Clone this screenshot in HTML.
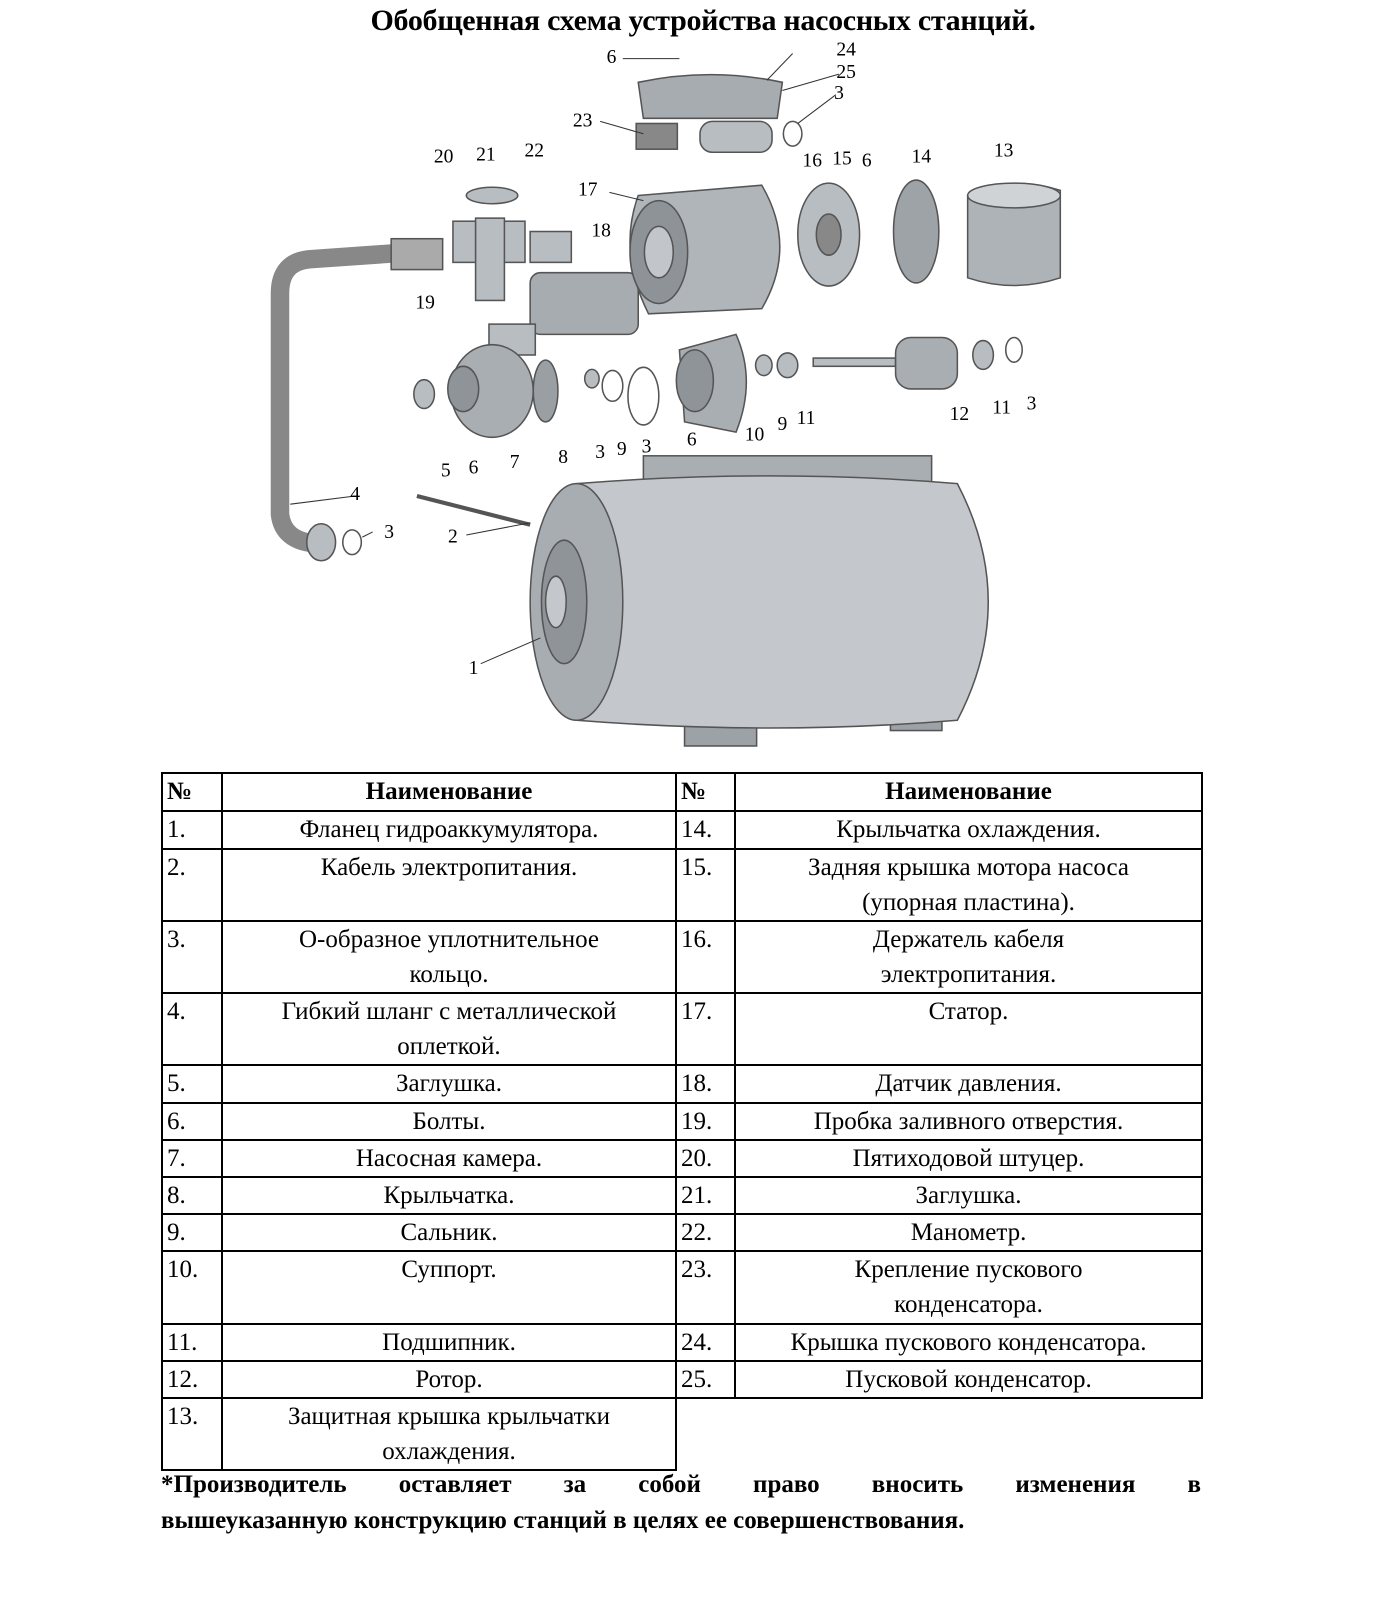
<!DOCTYPE html>
<html><head><meta charset="utf-8"><style>
body{margin:0;width:1400px;height:1600px;background:#fff;position:relative;overflow:hidden;font-family:"Liberation Serif","Noto Serif CJK SC",serif;}
svg{position:absolute;left:0;top:0}
h1{position:absolute;left:0;width:1406px;top:4px;margin:0;text-align:center;font-size:30px;font-weight:bold;letter-spacing:-0.3px}
table{position:absolute;left:161px;top:772px;border-collapse:collapse;font-size:25px;line-height:35px;table-layout:fixed;width:1040px}
td{border:2px solid #000;text-align:center;vertical-align:top;padding:0;white-space:nowrap;overflow:visible}
td.n{text-align:left;padding-left:4px}
.foot{position:absolute;left:161px;top:1467px;width:1040px;font-size:25px;font-weight:bold;line-height:36px;}
.foot1{text-align:justify;text-align-last:justify}
</style></head><body>
<h1>Обобщенная схема устройства насосных станций.</h1>
<svg width="1400" height="1600" viewBox="0 0 1360 1555" preserveAspectRatio="none" font-family="Liberation Serif" font-size="19">
<g fill="#b8bdc2" stroke="#555" stroke-width="1.5">
<rect x="625" y="443" width="280" height="80" fill="#a9aeb3"/>
<rect x="665" y="660" width="70" height="65" fill="#9da2a7"/>
<rect x="865" y="660" width="50" height="50" fill="#9da2a7"/>
<path d="M560 470 Q750 455 930 470 Q990 585 930 700 Q750 715 560 700 Z" fill="#c4c8cc"/>
<ellipse cx="560" cy="585" rx="45" ry="115" fill="#a8adb2"/>
<ellipse cx="548" cy="585" rx="22" ry="60" fill="#8f9499"/>
<ellipse cx="540" cy="585" rx="10" ry="25" fill="#c4c8cc"/>
<path d="M400 245 L300 252 Q272 255 272 285 L272 500 Q275 525 305 528" fill="none" stroke="#888" stroke-width="18"/>
<rect x="380" y="232" width="50" height="30" fill="#aaa"/>
<ellipse cx="312" cy="527" rx="14" ry="18"/>
<rect x="440" y="215" width="70" height="40"/>
<rect x="462" y="212" width="28" height="80"/>
<rect x="515" y="225" width="40" height="30"/>
<ellipse cx="478" cy="190" rx="25" ry="8"/>
<rect x="515" y="265" width="105" height="60" rx="10" fill="#a7acb1"/>
<path d="M620 190 L740 180 Q775 240 740 300 L630 305 Q600 245 620 190Z" fill="#b0b5ba"/>
<ellipse cx="640" cy="245" rx="28" ry="50" fill="#8e9398"/>
<ellipse cx="640" cy="245" rx="14" ry="25" fill="#c2c6ca"/>
<path d="M620 80 Q690 65 760 80 L755 115 L625 115Z" fill="#a7acb1"/>
<rect x="618" y="120" width="40" height="25" fill="#888"/>
<rect x="680" y="118" width="70" height="30" rx="12"/>
<ellipse cx="770" cy="130" rx="9" ry="12" fill="none"/>
<ellipse cx="805" cy="228" rx="30" ry="50"/>
<ellipse cx="805" cy="228" rx="12" ry="20" fill="#888"/>
<ellipse cx="890" cy="225" rx="22" ry="50" fill="#9ea3a8"/>
<path d="M940 190 Q985 170 1030 185 L1030 270 Q985 285 940 270Z" fill="#aeb3b8"/>
<ellipse cx="985" cy="190" rx="45" ry="12" fill="#d0d3d6"/>
<rect x="475" y="315" width="45" height="30"/>
<ellipse cx="478" cy="380" rx="40" ry="45" fill="#a9aeb3"/>
<ellipse cx="450" cy="378" rx="15" ry="22" fill="#8f9499"/>
<ellipse cx="412" cy="383" rx="10" ry="14"/>
<ellipse cx="530" cy="380" rx="12" ry="30" fill="#9a9fa4"/>
<ellipse cx="575" cy="368" rx="7" ry="9"/>
<ellipse cx="595" cy="375" rx="10" ry="15" fill="none"/>
<ellipse cx="625" cy="385" rx="15" ry="28" fill="none"/>
<path d="M660 340 L715 325 Q735 370 715 420 L665 410Z" fill="#a9aeb3"/>
<ellipse cx="675" cy="370" rx="18" ry="30" fill="#8f9499"/>
<ellipse cx="742" cy="355" rx="8" ry="10"/>
<ellipse cx="765" cy="355" rx="10" ry="12"/>
<rect x="790" y="348" width="80" height="8"/>
<rect x="870" y="328" width="60" height="50" rx="15" fill="#a9aeb3"/>
<ellipse cx="955" cy="345" rx="10" ry="14"/>
<ellipse cx="985" cy="340" rx="8" ry="12" fill="none"/>
<ellipse cx="342" cy="527" rx="9" ry="12" fill="none"/>
<path d="M405 482 L515 510" stroke-width="4"/>
</g>
<g stroke="#333" stroke-width="1" fill="none">
<path d="M467 645 L525 620 M345 482 L282 490 M362 517 L352 522 M453 520 L515 508 M605 57 L660 57 M770 52 L745 78 M815 72 L760 88 M812 92 L775 120 M583 118 L625 130 M592 187 L625 195"/>
</g>
<g fill="#000" text-anchor="middle">
<text x="460" y="655">1</text><text x="440" y="527">2</text><text x="378" y="523">3</text><text x="345" y="486">4</text>
<text x="433" y="463">5</text><text x="460" y="460">6</text><text x="500" y="455">7</text><text x="547" y="450">8</text>
<text x="583" y="445">3</text><text x="604" y="442">9</text><text x="628" y="440">3</text><text x="672" y="433">6</text>
<text x="733" y="428">10</text><text x="760" y="418">9</text><text x="783" y="412">11</text><text x="932" y="408">12</text>
<text x="973" y="402">11</text><text x="1002" y="398">3</text><text x="413" y="300">19</text><text x="584" y="230">18</text>
<text x="431" y="158">20</text><text x="472" y="156">21</text><text x="519" y="152">22</text><text x="571" y="190">17</text>
<text x="789" y="162">16</text><text x="818" y="160">15</text><text x="842" y="162">6</text><text x="895" y="158">14</text>
<text x="975" y="152">13</text><text x="566" y="123">23</text><text x="594" y="61">6</text><text x="822" y="54">24</text>
<text x="822" y="76">25</text><text x="815" y="96">3</text>
</g>
</svg>
<table>
<colgroup><col style="width:60px"><col style="width:454px"><col style="width:59px"><col style="width:467px"></colgroup>
<tr style="height:38px"><td class="n"><b>№</b></td><td><b>Наименование</b></td><td class="n"><b>№</b></td><td><b>Наименование</b></td></tr>
<tr style="height:38px"><td class="n">1.</td><td>Фланец гидроаккумулятора.</td><td class="n">14.</td><td>Крыльчатка охлаждения.</td></tr>
<tr style="height:72px"><td class="n">2.</td><td>Кабель электропитания.</td><td class="n">15.</td><td>Задняя крышка мотора насоса<br>(упорная пластина).</td></tr>
<tr style="height:72px"><td class="n">3.</td><td>О-образное уплотнительное<br>кольцо.</td><td class="n">16.</td><td>Держатель кабеля<br>электропитания.</td></tr>
<tr style="height:72px"><td class="n">4.</td><td>Гибкий шланг с металлической<br>оплеткой.</td><td class="n">17.</td><td>Статор.</td></tr>
<tr style="height:38px"><td class="n">5.</td><td>Заглушка.</td><td class="n">18.</td><td>Датчик давления.</td></tr>
<tr style="height:36px"><td class="n">6.</td><td>Болты.</td><td class="n">19.</td><td>Пробка заливного отверстия.</td></tr>
<tr style="height:37px"><td class="n">7.</td><td>Насосная камера.</td><td class="n">20.</td><td>Пятиходовой штуцер.</td></tr>
<tr style="height:37px"><td class="n">8.</td><td>Крыльчатка.</td><td class="n">21.</td><td>Заглушка.</td></tr>
<tr style="height:36px"><td class="n">9.</td><td>Сальник.</td><td class="n">22.</td><td>Манометр.</td></tr>
<tr style="height:73px"><td class="n">10.</td><td>Суппорт.</td><td class="n">23.</td><td>Крепление пускового<br>конденсатора.</td></tr>
<tr style="height:37px"><td class="n">11.</td><td>Подшипник.</td><td class="n">24.</td><td>Крышка пускового конденсатора.</td></tr>
<tr style="height:36px"><td class="n">12.</td><td>Ротор.</td><td class="n">25.</td><td>Пусковой конденсатор.</td></tr>
<tr style="height:71px"><td class="n">13.</td><td>Защитная крышка крыльчатки<br>охлаждения.</td><td style="border:none"></td><td style="border:none"></td></tr>
</table>
<div class="foot"><div class="foot1">*Производитель оставляет за собой право вносить изменения в</div><div>вышеуказанную конструкцию станций в целях ее совершенствования.</div></div>
</body></html>
